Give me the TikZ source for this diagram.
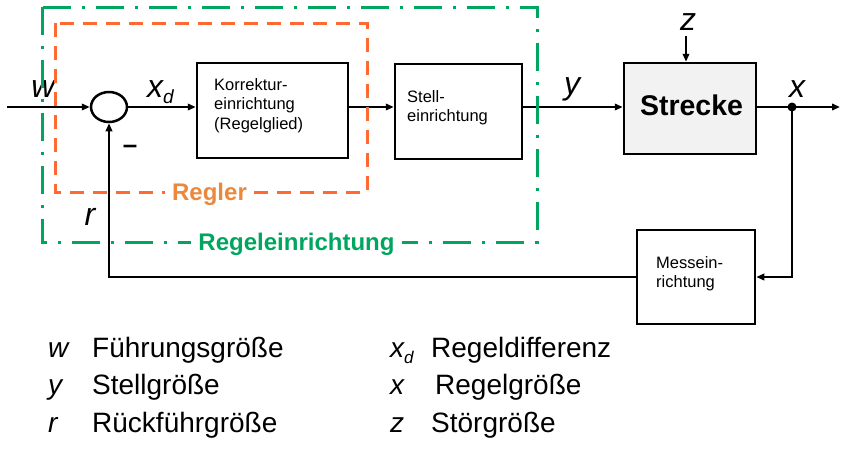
\documentclass[tikz,border=0pt]{standalone}
\usepackage{fontspec}
\setmainfont{Liberation Sans}
\usetikzlibrary{arrows.meta,shapes.geometric}
\definecolor{grn}{RGB}{0,166,96}
\definecolor{org}{RGB}{255,105,50}
\definecolor{orgtxt}{RGB}{236,136,60}
\definecolor{plantfill}{RGB}{242,242,242}
\newcommand\stacklines[1]{\begin{tabular}[t]{@{}l@{}}#1\end{tabular}}
\begin{document}
\begin{tikzpicture}[x=1pt,y=-1pt,
  blk/.style={draw, line width=2.5pt, inner sep=0pt},
  con/.style={line width=2pt, -{Triangle[length=8pt,width=6.5pt]}},
  btxt/.style={anchor=base west, inner sep=0pt, font=\fontsize{16.5}{19.5}\selectfont},
  var/.style={anchor=base, inner sep=0pt, font=\fontsize{32}{32}\selectfont\itshape},
  leg/.style={anchor=base west, inner sep=0pt, font=\fontsize{28}{33}\selectfont},
  legsym/.style={leg, font=\fontsize{28}{33}\selectfont\itshape},
  frametxt/.style={anchor=base, fill=white, inner xsep=7pt, inner ysep=2pt, font=\fontsize{24}{24}\selectfont\bfseries},
]
\useasboundingbox (0,0) rectangle (843,451);

% blocks
\node[blk, ellipse, minimum width=36pt, minimum height=30pt] (sum) at (109,107) {};
\node[blk, minimum width=151pt, minimum height=95pt] (kor) at (272.5,110.5) {};
\node[blk, minimum width=127pt, minimum height=95pt] (stell) at (458.5,111.5) {};
\node[blk, fill=plantfill, minimum width=132pt, minimum height=91pt] (str) at (690,108.5) {};
\node[blk, minimum width=118pt, minimum height=94pt] (mess) at (696,277) {};

% block texts
\node[btxt] (kortxt) at (214,90) {\stacklines{Korrektur-\\einrichtung\\(Regelglied)}};
\node[btxt] (stelltxt) at (407,102) {\stacklines{Stell-\\einrichtung}};
\node[btxt] (messtxt) at (656,268) {\stacklines{Messein-\\richtung}};
\node[anchor=base, inner sep=0pt, font=\fontsize{28.5}{28.5}\selectfont\bfseries] (strtxt) at (691.5,115) {Strecke};

% coordinates
\coordinate (in) at (7,107);
\coordinate (out) at (840,107);
\coordinate (tap) at (792,107);
\coordinate (zc) at (686,36);

% connectors
\draw[con] (in) -- (sum.west);
\draw[con] (sum.east) -- (sum.east -| kor.west);
\draw[con] (sum -| kor.east) -- (sum -| stell.west);
\draw[con] (sum -| stell.east) -- (sum -| str.west);
\draw[con] (sum -| str.east) -- (out);
\draw[con] (tap) |- (mess.east);
\draw[con] (mess.west) -| (sum.south);
\draw[con] (zc) -- (zc |- str.north);
\fill (tap) circle (4.5pt);

% signal labels
\node[var] (lw) at (43,97) {w};
\node[var, anchor=base west] (lxd) at (147,97) {x\raisebox{-6pt}{\fontsize{19}{19}\selectfont d}};
\node[var] (ly) at (572,94) {y};
\node[var] (lz) at (688,30) {z};
\node[var] (lx) at (797,97) {x};
\node[var] (lr) at (90,225) {r};
\node[anchor=base, inner sep=0pt, font=\fontsize{26}{26}\selectfont\bfseries] (lminus) at (130,153) {–};

% frames
\draw[org, line width=3pt, dash pattern=on 14pt off 9pt] (55,23) rectangle (367,192);
\draw[grn, line width=3pt, dash pattern=on 28pt off 11pt on 3pt off 11pt] (42,7) rectangle (537,242);
\node[frametxt, text=orgtxt] (regler) at (209.5,200) {Regler};
\node[frametxt, text=grn] (regein) at (296.5,250) {Regeleinrichtung};

% legend
\node[legsym] (s1) at (48,357) {w};
\node[leg] (t1) at (92,357) {Führungsgröße};
\node[legsym] (s2) at (48,394) {y};
\node[leg] (t2) at (92,394) {Stellgröße};
\node[legsym] (s3) at (48,432) {r};
\node[leg] (t3) at (92,432) {Rückführgröße};
\node[legsym] (s4) at (390,357) {x\raisebox{-6pt}{\fontsize{17}{17}\selectfont d}};
\node[leg] (t4) at (431,357) {Regeldifferenz};
\node[legsym] (s5) at (390,394) {x};
\node[leg] (t5) at (435,394) {Regelgröße};
\node[legsym] (s6) at (390,432) {z};
\node[leg] (t6) at (431,432) {Störgröße};
\end{tikzpicture}
\end{document}
